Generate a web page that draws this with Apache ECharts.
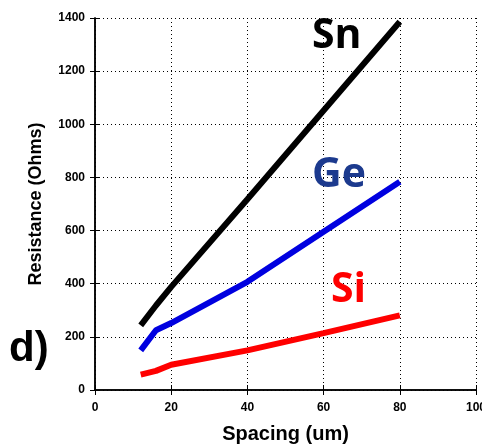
<!DOCTYPE html>
<html>
<head>
<meta charset="utf-8">
<script src="https://cdn.jsdelivr.net/npm/echarts@6/dist/echarts.min.js"></script>
<style>html,body{margin:0;padding:0;background:#fff}#c{width:482px;height:448px}</style>
</head>
<body>
<div id="c"></div>
<script>
const spacing = [12, 16, 20, 40, 60, 80];
const snValues = [243, 318, 388, 718, 1052, 1386];
const geValues = [149, 225, 252, 407, 596, 784];
const siValues = [58, 72, 95, 149, 214, 281];
const xTicks = [0, 20, 40, 60, 80, 100];
const yTicks = [0, 200, 400, 600, 800, 1000, 1200, 1400];

const chart = echarts.init(document.getElementById('c'));
const pair = (xs, ys) => xs.map((x, i) => [x, ys[i]]);
const tickFont = {color: '#000', fontWeight: 'bold', fontSize: 12, fontFamily: 'Liberation Sans, Arial, sans-serif', formatter: v => String(v)};
const dotted = {show: true, lineStyle: {color: '#000', type: [1, 3], width: 1}};
chart.setOption({
  animation: false,
  grid: {left: 95, right: 6, top: 18, bottom: 58, containLabel: false, outerBoundsMode: 'none'},
  xAxis: [{
    type: 'value', min: xTicks[0], max: xTicks[xTicks.length - 1], interval: 20,
    name: 'Spacing (um)', nameLocation: 'middle', nameGap: 34,
    nameTextStyle: {color: '#000', fontWeight: 'bold', fontSize: 20, fontFamily: 'Liberation Sans, Arial, sans-serif'},
    axisLine: {show: true, lineStyle: {color: '#000', width: 1.5}},
    axisTick: {show: true, inside: true, length: 5, lineStyle: {color: '#000'}},
    axisLabel: Object.assign({margin: 12}, tickFont),
    splitLine: dotted
  }, {
    type: 'value', position: 'top', min: 0, max: 100, interval: 20,
    axisLine: {show: true, lineStyle: {color: '#000', width: 1.5}},
    axisTick: {show: true, inside: true, length: 5, lineStyle: {color: '#000'}},
    axisLabel: {show: false}, splitLine: {show: false}
  }],
  yAxis: [{
    type: 'value', min: yTicks[0], max: yTicks[yTicks.length - 1], interval: 200,
    name: 'Resistance (Ohms)', nameLocation: 'middle', nameGap: 50,
    nameTextStyle: {color: '#000', fontWeight: 'bold', fontSize: 18, fontFamily: 'Liberation Sans, Arial, sans-serif'},
    axisLine: {show: true, lineStyle: {color: '#000', width: 1.5}},
    axisTick: {show: true, inside: true, length: 5, lineStyle: {color: '#000'}},
    axisLabel: Object.assign({margin: 10}, tickFont),
    splitLine: dotted
  }, {
    type: 'value', position: 'right', min: 0, max: 1400, interval: 200,
    axisLine: {show: true, lineStyle: {color: '#000', width: 1.5}},
    axisTick: {show: true, inside: true, length: 5, lineStyle: {color: '#000'}},
    axisLabel: {show: false}, splitLine: {show: false}
  }],
  series: [
    {name: 'Sn', type: 'line', data: pair(spacing, snValues), showSymbol: false, lineStyle: {color: '#000', width: 6}, z: 5},
    {name: 'Ge', type: 'line', data: pair(spacing, geValues), showSymbol: false, lineStyle: {color: '#0000e0', width: 6}, z: 5},
    {name: 'Si', type: 'line', data: pair(spacing, siValues), showSymbol: false, lineStyle: {color: '#ff0000', width: 6}, z: 5}
  ],
  graphic: [
    {type: 'text', left: 312, top: 16, z: 10, style: {text: 'Sn', fill: '#000', font: 'bold 41px "Open Sans", sans-serif'}},
    {type: 'text', left: 312, top: 155, z: 10, style: {text: 'Ge', fill: '#1c3a8e', font: 'bold 41px "Open Sans", sans-serif'}},
    {type: 'text', left: 331, top: 270, z: 10, style: {text: 'Si', fill: '#ff0000', font: 'bold 41px "Open Sans", sans-serif'}},
    {type: 'text', left: 9, top: 328, z: 10, style: {text: 'd)', fill: '#000', font: 'bold 42px "Liberation Sans", Arial, sans-serif'}}
  ]
});
</script>
</body>
</html>
